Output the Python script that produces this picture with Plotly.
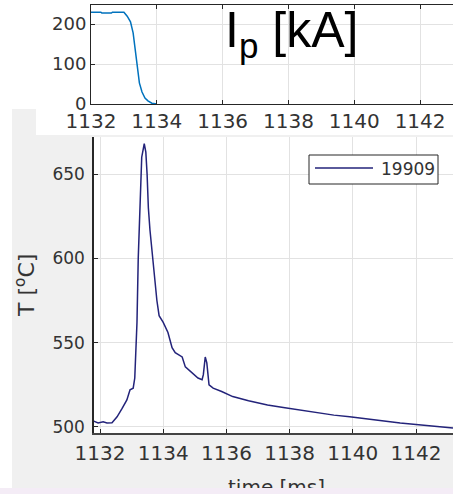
import plotly.graph_objects as go

W, H = 453, 494

# ---- data ----
ip_time = [1132.0, 1132.3, 1132.33, 1132.62, 1132.65, 1133.0, 1133.1, 1133.2, 1133.28,
           1133.33, 1133.37, 1133.41, 1133.47, 1133.55, 1133.64, 1133.73, 1133.85, 1134.0]
ip_kA = [230, 230, 228, 228, 230, 230, 220, 206, 178, 143, 111, 80, 53, 30, 15, 8, 2, 0]

t_time = [1131.78, 1131.94, 1132.1, 1132.22, 1132.38, 1132.54, 1132.7, 1132.85, 1132.95,
          1133.05, 1133.1, 1133.13, 1133.17, 1133.21, 1133.27, 1133.32, 1133.40, 1133.45,
          1133.49, 1133.53, 1133.58, 1133.64, 1133.69, 1133.74, 1133.8, 1133.87, 1134.0,
          1134.15, 1134.28, 1134.38, 1134.6, 1134.7, 1134.9, 1135.1, 1135.23, 1135.27,
          1135.33, 1135.38, 1135.45, 1135.58, 1135.85, 1136.2, 1136.7, 1137.3, 1137.8,
          1138.3, 1138.8, 1139.4, 1139.9, 1140.45, 1141.0, 1141.5, 1142.0, 1142.5, 1143.17]
t_temp = [503.6, 502.4, 503.0, 502.4, 502.5, 506, 511, 516, 522,
          523, 529, 540, 562, 600, 640, 660, 668, 663,
          650, 630, 617, 605, 593, 585, 575, 566, 562,
          556, 547, 544, 541.5, 535.6, 532, 529, 528, 531,
          541.5, 538, 525, 523, 521, 518, 515.5, 513, 511.5,
          510, 508.5, 507, 506, 504.7, 503.5, 502.4, 501.5, 500.6, 499.4]

series_name = "19909"
x_ticks = [1132, 1134, 1136, 1138, 1140, 1142]
ip_ticks = [0, 100, 200]
t_ticks = [500, 550, 600, 650]

# ---- layout helpers (pixel positions -> fractions) ----
TOP = dict(l=91, r=453, t=5, b=104)     # upper axes box in px
BOT = dict(l=94, r=453, t=137, b=433)   # lower axes box in px


def px(v):
    return v / W


def py(v):
    return 1 - v / H


def dx(box, v):
    return (v - box["l"]) / (box["r"] - box["l"])


def dy(box, v):
    return (box["b"] - v) / (box["b"] - box["t"])


AX = "#262626"
GRID = "#e2e2e2"
TXT = "#333333"
FONT = "DejaVu Sans"
NAVY = "#23237a"

fig = go.Figure()
fig.add_trace(go.Scatter(x=ip_time, y=ip_kA, mode="lines", xaxis="x", yaxis="y",
                         line=dict(color="#0072BD", width=1.5), showlegend=False))
fig.add_trace(go.Scatter(x=t_time, y=t_temp, mode="lines", xaxis="x2", yaxis="y2",
                         name=series_name, line=dict(color=NAVY, width=1.5),
                         showlegend=False))

fig.update_layout(
    width=W, height=H,
    margin=dict(l=0, r=0, t=0, b=0, autoexpand=False),
    paper_bgcolor="white", plot_bgcolor="white",
    xaxis=dict(domain=[px(TOP["l"]), 1], anchor="y", range=[1132, 1143], tickvals=x_ticks,
               showgrid=True, gridcolor=GRID, showline=True, linecolor=AX, linewidth=1,
               mirror="ticks", ticks="inside", ticklen=4, tickcolor=AX, ticklabelstandoff=-1,
               tickfont=dict(family=FONT, size=20, color=TXT), zeroline=False),
    yaxis=dict(domain=[py(TOP["b"]), py(TOP["t"])], anchor="x", range=[0, 248], tickvals=ip_ticks,
               showgrid=True, gridcolor=GRID, showline=True, linecolor=AX, linewidth=1,
               ticks="inside", ticklen=4, tickcolor=AX,
               tickfont=dict(family=FONT, size=18, color=TXT), zeroline=False),
    xaxis2=dict(domain=[px(BOT["l"]), 1], anchor="y2", range=[1131.81, 1143.17], tickvals=x_ticks,
                showgrid=True, gridcolor=GRID, showline=True, linecolor="#444444", linewidth=1.5,
                ticks="inside", ticklen=4, tickcolor=AX, ticklabelstandoff=1,
                tickfont=dict(family=FONT, size=20, color=TXT), zeroline=False),
    yaxis2=dict(domain=[py(BOT["b"]), py(BOT["t"])], anchor="x2", range=[496.4, 672], tickvals=t_ticks,
                showgrid=True, gridcolor=GRID, showline=True, linecolor=AX, linewidth=1.5,
                ticks="inside", ticklen=4, tickcolor=AX, ticklabelstandoff=4,
                tickfont=dict(family=FONT, size=17, color=TXT), zeroline=False),
)

shapes = [
    # grey figure background of the lower panel
    dict(type="rect", xref="paper", yref="paper", x0=px(12), x1=1, y0=py(488), y1=py(109),
         fillcolor="#f0f0f0", line=dict(width=0), layer="below"),
    # white strip of the pasted upper panel
    dict(type="rect", xref="paper", yref="paper", x0=px(36), x1=1, y0=py(135), y1=1,
         fillcolor="white", line=dict(width=0), layer="below"),
    # white plot area of lower panel
    dict(type="rect", xref="x2 domain", yref="y2 domain", x0=0, x1=1, y0=0, y1=1,
         fillcolor="white", line=dict(width=0), layer="below"),
    # legend box
    dict(type="rect", xref="paper", yref="paper", x0=px(309), x1=px(438), y0=py(184), y1=py(155),
         fillcolor="white", line=dict(color=AX, width=1), layer="above"),
    dict(type="line", xref="paper", yref="paper", x0=px(315), x1=px(373), y0=py(168), y1=py(168),
         line=dict(color=NAVY, width=1.5), layer="above"),
]
fig.update_layout(shapes=shapes)

annotations = [
    dict(text="I<sub>p</sub> [kA]", xref="x domain", yref="y domain",
         x=dx(TOP, 223), y=dy(TOP, 33),
         xanchor="left", yanchor="middle", showarrow=False,
         font=dict(family="Liberation Sans", size=50, color="black")),
    dict(text=series_name, xref="x2 domain", yref="y2 domain",
         x=dx(BOT, 379), y=dy(BOT, 169),
         xanchor="left", yanchor="middle", showarrow=False,
         font=dict(family=FONT, size=17, color=TXT)),
    dict(text="T [<sup>o</sup>C]", xref="x2 domain", yref="y2 domain",
         x=dx(BOT, 25), y=dy(BOT, 286),
         xanchor="center", yanchor="middle", textangle=-90, showarrow=False,
         font=dict(family=FONT, size=22, color=TXT)),
    dict(text="time [ms]", xref="x2 domain", yref="y2 domain",
         x=dx(BOT, 276), y=dy(BOT, 473),
         xanchor="center", yanchor="top", showarrow=False,
         font=dict(family=FONT, size=20, color=TXT)),
    # pinkish strip at the bottom edge of the picture
    dict(text=" ", xref="x2 domain", yref="y2 domain", x=dx(BOT, 0), y=dy(BOT, 494),
         xanchor="left", yanchor="bottom",
         width=W, height=6, bgcolor="#f4ecf6", borderpad=0, borderwidth=0, showarrow=False,
         font=dict(size=4)),
]
fig.update_layout(annotations=annotations)

fig.write_html("out.html", config={"displayModeBar": False})
